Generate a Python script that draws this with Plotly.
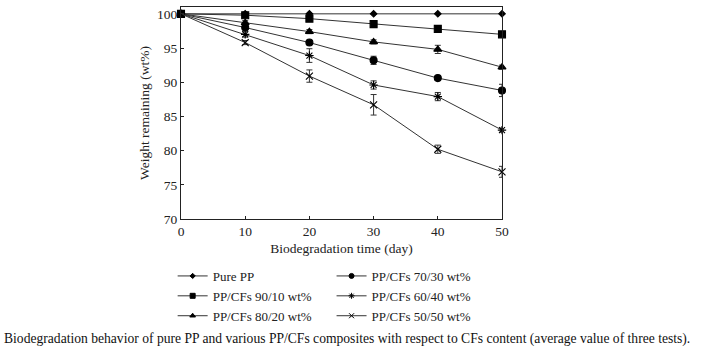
import plotly.graph_objects as go

days = [0, 10, 20, 30, 40, 50]
pure_pp = [100, 100, 100, 100, 100, 100]
pp_90_10 = [100, 99.8, 99.3, 98.5, 97.8, 97.0]
pp_80_20 = [100, 98.7, 97.4, 95.9, 94.8, 92.2]
pp_70_30 = [100, 98.0, 95.8, 93.2, 90.6, 88.8]
pp_60_40 = [100, 97.0, 93.9, 89.6, 87.9, 83.0]
pp_50_50 = [100, 95.8, 90.9, 86.7, 80.2, 76.9]

err_pure = [0, 0, 0, 0, 0, 0]
err_90_10 = [0, 0.2, 0.3, 0.5, 0.3, 0.3]
err_80_20 = [0, 0.3, 0.3, 0.3, 0.6, 0.3]
err_70_30 = [0, 0.3, 0.3, 0.6, 0.3, 0.9]
err_60_40 = [0, 0.4, 1.0, 0.6, 0.6, 0.3]
err_50_50 = [0, 0.3, 0.9, 1.5, 0.6, 0.8]

names = ["Pure PP", "PP/CFs 90/10 wt%", "PP/CFs 80/20 wt%",
         "PP/CFs 70/30 wt%", "PP/CFs 60/40 wt%", "PP/CFs 50/50 wt%"]
series = [pure_pp, pp_90_10, pp_80_20, pp_70_30, pp_60_40, pp_50_50]
errors = [err_pure, err_90_10, err_80_20, err_70_30, err_60_40, err_50_50]
symbols = ["diamond", "square", "triangle-up", "circle", "asterisk-open", "x-thin-open"]
sizes = [5, 7, 7, 7, 7, 7]
leg_sizes = [4, 5, 5, 5, 5, 5]
legends = ["legend", "legend", "legend", "legend2", "legend2", "legend2"]

FONT = "'Liberation Serif', 'Times New Roman', serif"
fig = go.Figure()
for n, s, e, sym, sz, lsz, lg in zip(names, series, errors, symbols, sizes, leg_sizes, legends):
    fig.add_trace(go.Scatter(
        x=days, y=s, name=n, mode="lines+markers", showlegend=False,
        line=dict(color="#333333", width=1),
        marker=dict(symbol=sym, size=sz, color="black",
                    line=dict(color="black", width=1.1)),
        error_y=dict(type="data", array=e, visible=True, color="#333333",
                     thickness=1, width=3),
        cliponaxis=False,
    ))
    # legend entry (no data drawn inside plot)
    fig.add_trace(go.Scatter(
        x=[None], y=[None], name=n, mode="lines+markers", legend=lg,
        line=dict(color="#333333", width=1),
        marker=dict(symbol=sym, size=lsz, color="black",
                    line=dict(color="black", width=1)),
    ))

axis_common = dict(showgrid=False, zeroline=False, showline=True, mirror=True,
                   linecolor="#222222", linewidth=1, ticks="inside", ticklen=3,
                   tickcolor="#222222", tickwidth=1, tickfont=dict(size=13.5))

fig.update_layout(
    width=723, height=354,
    margin=dict(l=181, r=221, t=7, b=135),
    paper_bgcolor="white", plot_bgcolor="white",
    font=dict(family=FONT, size=13, color="#222222"),
    xaxis=dict(range=[0, 50], tickvals=[0, 10, 20, 30, 40, 50],
               title=dict(text="Biodegradation time (day)", font=dict(size=13.5), standoff=5),
               **axis_common),
    yaxis=dict(range=[70, 101], tickvals=[70, 75, 80, 85, 90, 95, 100],
               title=dict(text="Weight remaining (wt%)", font=dict(size=13.5), standoff=4),
               **axis_common),
    legend=dict(x=-0.026, y=-0.198, xanchor="left", yanchor="top",
                font=dict(size=13), tracegroupgap=0, itemwidth=30,
                bgcolor="rgba(0,0,0,0)"),
    legend2=dict(x=0.469, y=-0.198, xanchor="left", yanchor="top",
                 font=dict(size=13), tracegroupgap=0, itemwidth=30,
                 bgcolor="rgba(0,0,0,0)"),
    annotations=[dict(
        text="Biodegradation behavior of pure PP and various PP/CFs composites with respect to CFs content (average value of three tests).",
        xref="paper", yref="paper", x=-179/321, y=-(339-219)/212, xanchor="left", yanchor="middle",
        showarrow=False, font=dict(family=FONT, size=13.6, color="#111111"))],
)

fig.write_html("out.html")
